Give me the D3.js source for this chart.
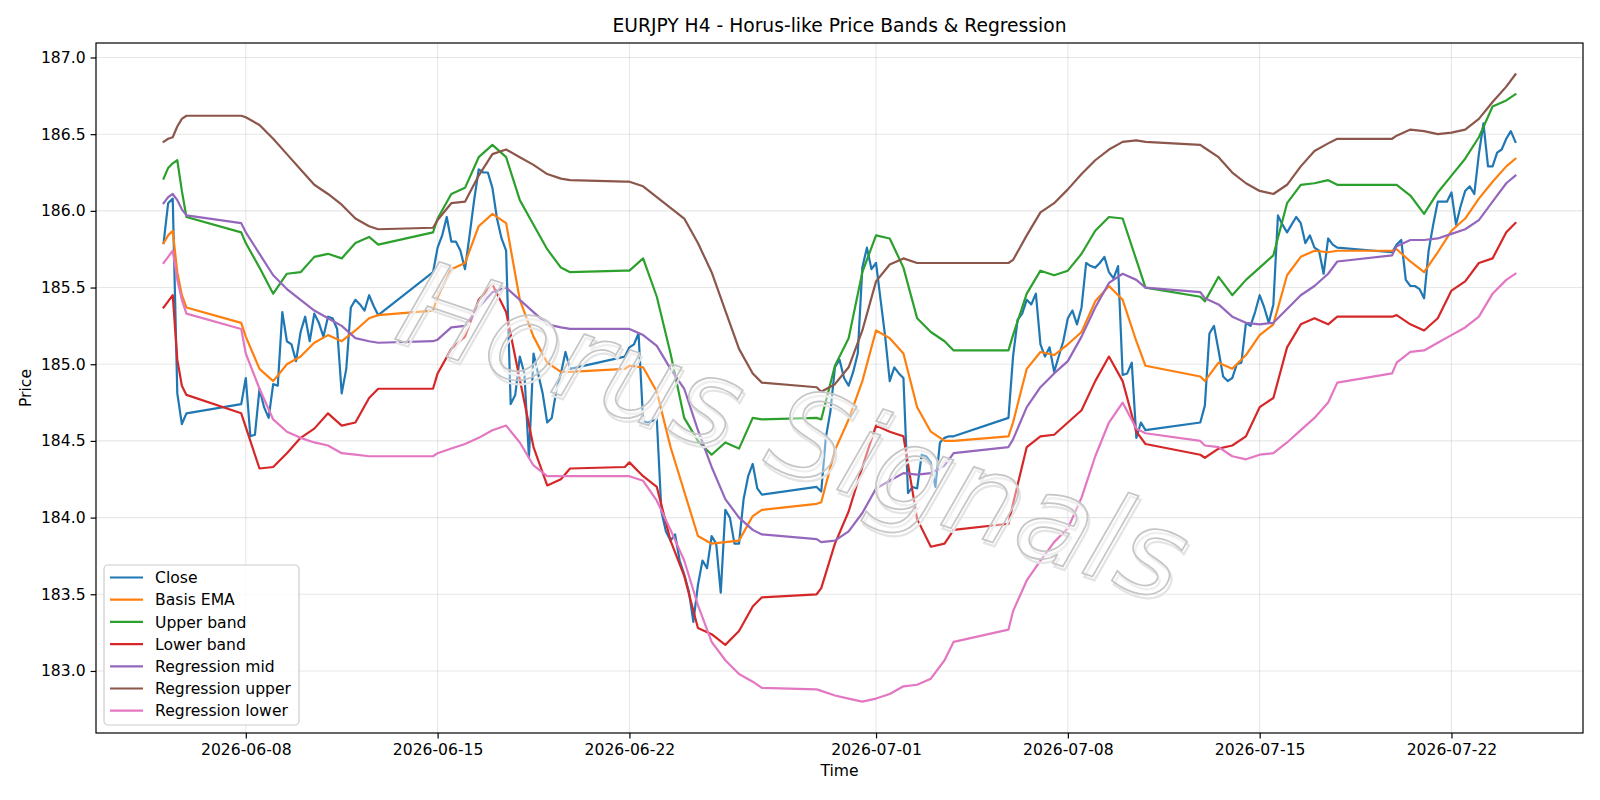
<!DOCTYPE html>
<html>
<head>
<meta charset="utf-8">
<script src="https://cdn.jsdelivr.net/npm/d3@7"></script>
<style>
  html, body { margin: 0; padding: 0; background: #ffffff; }
  svg { display: block; }
  text { font-family: "DejaVu Sans", sans-serif; fill: #000; }
</style>
</head>
<body>
<svg id="chart" width="1600" height="800"></svg>
<script>
// ---------------- DATA ----------------
const chartTitle = "EURJPY H4 - Horus-like Price Bands & Regression";
const firstFriday = "2026-06-05";
const weekSundays = ["2026-06-07", "2026-06-14", "2026-06-21", "2026-06-28", "2026-07-05", "2026-07-12", "2026-07-19"];
const lastBar = "2026-07-24T08:00:00Z";
const barHours = [0, 4, 8, 12, 16, 20];          // H4 bars
const sampleHours = [0, 12];                      // band readings, twice a day
const fridaySampleHours = [0, 12, 20];

const seriesNames = ["Close", "Basis EMA", "Upper band", "Lower band", "Regression mid", "Regression upper", "Regression lower"];
const seriesColors = ["#1f77b4", "#ff7f0e", "#2ca02c", "#d62728", "#9467bd", "#8c564b", "#e377c2"];

const closeValues = [
  185.79, 186.05, 186.08, 184.81, 184.61, 184.68,
  184.74, 184.91, 184.53, 184.54, 184.84, 184.72, 184.65, 184.87, 184.86, 185.34, 185.15, 185.13, 185.02,
  185.21, 185.31, 185.15, 185.33, 185.27, 185.18, 185.31, 185.30, 185.23, 184.81, 184.97, 185.37,
  185.42, 185.39, 185.35, 185.45, 185.38, 185.32,
  185.60, 185.76, 185.84, 185.96, 185.80, 185.80, 185.74, 185.62, 185.84, 186.07, 186.27, 186.25, 186.25,
  186.15, 185.95, 185.82, 185.74, 184.74, 184.80, 185.05, 184.94, 184.39, 185.07, 184.94, 184.81,
  184.62, 184.65, 184.83, 184.94, 185.08, 184.97,
  185.05, 185.11, 185.13, 185.20, 184.63, 184.62, 184.63, 184.64, 184.04, 183.91, 183.85, 183.89, 183.72,
  183.63, 183.52, 183.32, 183.56, 183.72, 183.67, 183.88, 183.83, 183.51, 184.05, 184.00, 183.83,
  183.83, 184.12, 184.27, 184.35, 184.19, 184.15,
  184.20, 184.17, 184.52, 184.69, 184.98, 185.03, 184.91, 184.86, 184.95, 185.07, 185.63, 185.76, 185.62,
  185.66, 185.42, 185.18, 184.89, 184.98, 184.94, 184.91, 184.16, 184.20, 184.19, 184.41, 184.40,
  184.36, 184.20, 184.49, 184.52, 184.53, 184.53,
  184.65, 185.05, 185.29, 185.33, 185.42, 185.39, 185.46, 185.13, 185.05, 185.11, 184.95, 185.05, 185.15,
  185.30, 185.35, 185.26, 185.37, 185.66, 185.64, 185.63, 185.66, 185.70, 185.60, 185.56, 185.64,
  184.93, 184.94, 185.01, 184.52, 184.62, 184.57,
  184.62, 184.73, 185.20, 185.25, 185.09, 184.92, 184.89, 184.91, 185.00, 185.01, 185.27, 185.25, 185.34,
  185.45, 185.37, 185.27, 185.39, 185.97, 185.91, 185.86, 185.91, 185.96, 185.92, 185.79, 185.84,
  185.76, 185.74, 185.59, 185.82, 185.78, 185.76,
  185.73, 185.78, 185.81, 185.55, 185.51, 185.51, 185.49, 185.43, 185.74, 185.91, 186.06, 186.06, 186.06,
  186.12, 185.91, 186.03, 186.13, 186.16, 186.11, 186.37, 186.57, 186.29, 186.29, 186.38, 186.40,
  186.47, 186.52, 186.45
];

const emaValues = [
  185.79, 185.84, 185.87, 185.60, 185.45, 185.37,
  185.27, 185.18, 184.97, 184.89, 185.00, 185.05, 185.14, 185.19, 185.15, 185.22, 185.30, 185.32,
  185.35, 185.44, 185.62, 185.66, 185.90, 185.98, 185.92, 185.42, 185.18, 185.01, 184.95, 184.95,
  184.97, 184.99, 184.98, 184.82, 184.46, 184.17, 183.88, 183.83, 183.84, 183.85, 184.01, 184.05,
  184.09, 184.10, 184.44, 184.64, 184.89, 185.22, 185.17, 185.07, 184.72, 184.56, 184.50, 184.50,
  184.53, 184.62, 184.97, 185.08, 185.06, 185.13, 185.21, 185.41, 185.51, 185.42, 185.15, 184.99,
  184.92, 184.89, 185.01, 184.97, 185.06, 185.19, 185.26, 185.58, 185.70, 185.74, 185.73, 185.74,
  185.74, 185.75, 185.67, 185.60, 185.73, 185.87, 185.95, 186.08, 186.19, 186.29, 186.34
];

const upperBandValues = [
  186.21, 186.28, 186.31, 186.33, 186.13, 185.96,
  185.86, 185.79, 185.63, 185.46, 185.59, 185.60, 185.70, 185.72, 185.69, 185.79, 185.83, 185.78,
  185.86, 185.95, 186.11, 186.15, 186.35, 186.43, 186.35, 186.07, 185.91, 185.75, 185.63, 185.60,
  185.61, 185.61, 185.69, 185.44, 185.07, 184.65, 184.50, 184.41, 184.49, 184.45, 184.65, 184.64,
  184.65, 184.64, 184.99, 185.17, 185.60, 185.84, 185.82, 185.63, 185.30, 185.21, 185.15, 185.09,
  185.09, 185.19, 185.46, 185.61, 185.58, 185.61, 185.72, 185.87, 185.96, 185.95, 185.68, 185.50,
  185.44, 185.41, 185.57, 185.45, 185.55, 185.63, 185.71, 186.05, 186.17, 186.18, 186.20, 186.17,
  186.17, 186.17, 186.10, 185.98, 186.12, 186.23, 186.34, 186.48, 186.68, 186.72, 186.76
];

const lowerBandValues = [
  185.37, 185.41, 185.45, 185.03, 184.86, 184.80,
  184.68, 184.59, 184.32, 184.33, 184.42, 184.52, 184.58, 184.68, 184.60, 184.62, 184.78, 184.84,
  184.84, 184.94, 185.10, 185.18, 185.42, 185.52, 185.34, 184.90, 184.46, 184.21, 184.25, 184.32,
  184.33, 184.36, 184.27, 184.20, 183.85, 183.62, 183.28, 183.24, 183.17, 183.26, 183.42, 183.48,
  183.50, 183.54, 183.83, 184.04, 184.33, 184.60, 184.56, 184.53, 183.99, 183.81, 183.83, 183.92,
  183.96, 184.09, 184.46, 184.53, 184.54, 184.62, 184.70, 184.89, 185.05, 184.89, 184.56, 184.48,
  184.41, 184.39, 184.45, 184.47, 184.53, 184.72, 184.78, 185.11, 185.26, 185.30, 185.26, 185.31,
  185.31, 185.32, 185.26, 185.22, 185.30, 185.48, 185.54, 185.66, 185.69, 185.86, 185.92
];

const regMidValues = [
  186.05, 186.09, 186.11, 186.07, 186.01, 185.97,
  185.92, 185.86, 185.72, 185.58, 185.49, 185.42, 185.35, 185.30, 185.25, 185.17, 185.15, 185.14,
  185.15, 185.16, 185.24, 185.25, 185.37, 185.47, 185.50, 185.42, 185.34, 185.26, 185.24, 185.23,
  185.23, 185.23, 185.19, 185.12, 184.97, 184.84, 184.57, 184.33, 184.12, 184.00, 183.92, 183.89,
  183.86, 183.84, 183.85, 183.91, 184.03, 184.19, 184.24, 184.29, 184.28, 184.29, 184.34, 184.42,
  184.46, 184.51, 184.72, 184.85, 184.94, 185.02, 185.18, 185.37, 185.53, 185.59, 185.55, 185.50,
  185.47, 185.43, 185.39, 185.31, 185.27, 185.26, 185.27, 185.36, 185.45, 185.51, 185.59, 185.67,
  185.71, 185.77, 185.81, 185.81, 185.82, 185.85, 185.88, 185.94, 186.06, 186.18, 186.23
];

const regUpperValues = [
  186.45, 186.47, 186.48, 186.55, 186.60, 186.62,
  186.62, 186.61, 186.56, 186.47, 186.37, 186.27, 186.17, 186.11, 186.04, 185.95, 185.90, 185.88,
  185.89, 185.94, 186.05, 186.06, 186.23, 186.37, 186.40, 186.35, 186.30, 186.24, 186.21, 186.20,
  186.19, 186.19, 186.16, 186.09, 186.02, 185.95, 185.79, 185.60, 185.35, 185.10, 184.94, 184.88,
  184.85, 184.82, 184.87, 184.98, 185.22, 185.54, 185.65, 185.69, 185.66, 185.66, 185.66, 185.66,
  185.66, 185.68, 185.84, 185.99, 186.05, 186.14, 186.24, 186.33, 186.40, 186.45, 186.46, 186.45,
  186.43, 186.41, 186.35, 186.25, 186.18, 186.13, 186.11, 186.17, 186.29, 186.39, 186.44, 186.47,
  186.47, 186.49, 186.53, 186.52, 186.50, 186.51, 186.53, 186.60, 186.71, 186.81, 186.89
];

const regLowerValues = [
  185.66, 185.70, 185.74, 185.55, 185.42, 185.33,
  185.23, 185.07, 184.84, 184.64, 184.56, 184.52, 184.49, 184.47, 184.42, 184.41, 184.40, 184.40,
  184.40, 184.42, 184.45, 184.48, 184.52, 184.57, 184.60, 184.49, 184.34, 184.27, 184.27, 184.27,
  184.27, 184.27, 184.24, 184.11, 183.92, 183.72, 183.43, 183.19, 183.07, 182.98, 182.93, 182.89,
  182.88, 182.87, 182.84, 182.82, 182.80, 182.82, 182.85, 182.90, 182.91, 182.95, 183.07, 183.19,
  183.27, 183.39, 183.59, 183.72, 183.84, 183.93, 184.13, 184.40, 184.62, 184.75, 184.58, 184.55,
  184.50, 184.47, 184.46, 184.40, 184.38, 184.41, 184.42, 184.49, 184.57, 184.65, 184.75, 184.88,
  184.94, 185.01, 185.08, 185.09, 185.14, 185.19, 185.24, 185.31, 185.46, 185.55, 185.59
];

const xTickLabels = ["2026-06-08", "2026-06-15", "2026-06-22", "2026-07-01", "2026-07-08", "2026-07-15", "2026-07-22"];
const yTickLabels = ["183.0", "183.5", "184.0", "184.5", "185.0", "185.5", "186.0", "186.5", "187.0"];
const watermarkText = "Horus Signals";

// ---------------- TIME AXIS (bar timestamps, weekends skipped) ----------------
const DAY = 86400000;
const endT = new Date(lastBar);
function at(dayStr, offsetDays, hour) {
  const d = new Date(dayStr + "T00:00:00Z");
  return new Date(d.getTime() + offsetDays * DAY + hour * 3600000);
}
function buildTimes(weekdayHours, fridayHours) {
  const out = [];
  barHours.forEach(h => out.push(at(firstFriday, 0, h)));
  weekSundays.forEach(s => {
    out.push(at(s, 0, 20));
    for (let d = 1; d <= 5; d++) {
      (d === 5 ? fridayHours : weekdayHours).forEach(h => out.push(at(s, d, h)));
    }
  });
  const kept = out.filter(t => t <= endT);
  if (kept[kept.length - 1].getTime() !== endT.getTime()) kept.push(endT);
  return kept;
}
const closeTimes = buildTimes(barHours, barHours);
const sampleTimes = buildTimes(sampleHours, fridaySampleHours);

const seriesValues = [closeValues, emaValues, upperBandValues, lowerBandValues, regMidValues, regUpperValues, regLowerValues];
const series = seriesValues.map((vals, i) => {
  const times = i === 0 ? closeTimes : sampleTimes;
  return { name: seriesNames[i], color: seriesColors[i], points: vals.map((v, k) => ({ t: times[k], v })) };
});

// ---------------- LAYOUT ----------------
const svg = d3.select("#chart");
const M = { left: 96, right: 1583, top: 43, bottom: 733 };

const t0 = closeTimes[0].getTime(), t1 = closeTimes[closeTimes.length - 1].getTime();
const padT = (t1 - t0) * 0.05;
const x = d3.scaleUtc().domain([new Date(t0 - padT), new Date(t1 + padT)]).range([M.left, M.right]);

const allV = seriesValues.flat();
const vMin = d3.min(allV), vMax = d3.max(allV);
const padV = (vMax - vMin) * 0.05;
const y = d3.scaleLinear().domain([vMin - padV, vMax + padV]).range([M.bottom, M.top]);

const xTicks = xTickLabels.map(s => new Date(s + "T00:00:00Z"));
const yTicks = yTickLabels.map(Number);

// grid
const grid = svg.append("g");
grid.selectAll("line.gx").data(xTicks).enter().append("line")
  .attr("x1", d => x(d)).attr("x2", d => x(d)).attr("y1", M.top).attr("y2", M.bottom)
  .attr("stroke", "#b0b0b0").attr("stroke-opacity", 0.3).attr("stroke-width", 1.1);
grid.selectAll("line.gy").data(yTicks).enter().append("line")
  .attr("x1", M.left).attr("x2", M.right).attr("y1", d => y(d)).attr("y2", d => y(d))
  .attr("stroke", "#b0b0b0").attr("stroke-opacity", 0.3).attr("stroke-width", 1.1);

// clip
svg.append("defs").append("clipPath").attr("id", "plotclip")
  .append("rect").attr("x", M.left).attr("y", M.top).attr("width", M.right - M.left).attr("height", M.bottom - M.top);

// lines
const line = d3.line().x(d => x(d.t)).y(d => y(d.v));
const lines = svg.append("g").attr("clip-path", "url(#plotclip)");
series.forEach(s => {
  lines.append("path").datum(s.points)
    .attr("d", line).attr("fill", "none").attr("stroke", s.color)
    .attr("stroke-width", 2.2).attr("stroke-linejoin", "round").attr("stroke-linecap", "square");
});

// watermark (drawn over the lines, italic, light grey with shadow)
const wm = svg.append("g").attr("transform", "translate(392,338) rotate(18.8)");
wm.append("text").attr("x", 3).attr("y", 3).text(watermarkText)
  .attr("font-size", 120).style("font-style", "oblique")
  .style("fill", "none").style("stroke", "#e4e4e4").style("stroke-width", 2.2);
wm.append("text").attr("x", 0).attr("y", 0).text(watermarkText)
  .attr("font-size", 120).style("font-style", "oblique")
  .style("fill", "#ffffff").style("fill-opacity", 0.4)
  .style("stroke", "#c6c6c6").style("stroke-width", 1.7);

// axes
const xAxis = d3.axisBottom(x).tickValues(xTicks).tickFormat((d, i) => xTickLabels[i]).tickSize(5.4).tickPadding(5);
const yAxis = d3.axisLeft(y).tickValues(yTicks).tickFormat((d, i) => yTickLabels[i]).tickSize(5.4).tickPadding(5);
const gx = svg.append("g").attr("transform", `translate(0,${M.bottom})`).call(xAxis);
const gy = svg.append("g").attr("transform", `translate(${M.left},0)`).call(yAxis);
[gx, gy].forEach(g => {
  g.select(".domain").remove();
  g.selectAll(".tick line").attr("stroke", "#000").attr("stroke-width", 1.2);
  g.selectAll(".tick text").attr("font-size", 15.6).attr("font-family", "DejaVu Sans").style("fill", "#000");
});
gx.selectAll(".tick text").attr("dy", "0.72em");

// frame
svg.append("rect").attr("x", M.left).attr("y", M.top).attr("width", M.right - M.left).attr("height", M.bottom - M.top)
  .attr("fill", "none").attr("stroke", "#000").attr("stroke-width", 1.2);

// title & labels
svg.append("text").attr("x", (M.left + M.right) / 2).attr("y", 32).attr("text-anchor", "middle")
  .attr("font-size", 18.7).text(chartTitle);
svg.append("text").attr("x", (M.left + M.right) / 2).attr("y", 776).attr("text-anchor", "middle")
  .attr("font-size", 15.6).text("Time");
svg.append("text").attr("transform", `translate(31,${(M.top + M.bottom) / 2}) rotate(-90)`).attr("text-anchor", "middle")
  .attr("font-size", 15.6).text("Price");

// legend
const lg = svg.append("g");
lg.append("rect").attr("x", 104).attr("y", 565).attr("width", 195).attr("height", 160).attr("rx", 4)
  .attr("fill", "#ffffff").attr("fill-opacity", 0.8).attr("stroke", "#cccccc").attr("stroke-width", 1.2);
series.forEach((s, i) => {
  const yy = 577.5 + i * 22.2;
  lg.append("line").attr("x1", 110).attr("x2", 143).attr("y1", yy).attr("y2", yy)
    .attr("stroke", s.color).attr("stroke-width", 2.2);
  lg.append("text").attr("x", 155).attr("y", yy + 5.6).attr("font-size", 15.6).text(s.name);
});
</script>
</body>
</html>
